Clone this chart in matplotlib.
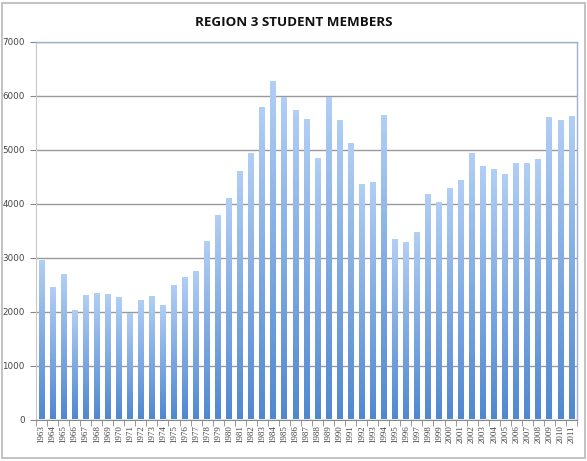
import numpy as np
import matplotlib
matplotlib.use("Agg")
import matplotlib.pyplot as plt
from matplotlib.colors import LinearSegmentedColormap
from matplotlib.patches import Rectangle

years = [str(y) for y in range(1963, 2012)]
members = [2950, 2460, 2690, 2030, 2300, 2350, 2330, 2270, 1980, 2210,
           2285, 2125, 2495, 2635, 2760, 3310, 3795, 4115, 4615, 4950,
           5800, 6280, 5980, 5730, 5580, 4845, 5980, 5545, 5130, 4370,
           4395, 5650, 3350, 3290, 3475, 4180, 4040, 4290, 4445, 4945,
           4700, 4645, 4560, 4765, 4760, 4825, 5610, 5560, 5635]
yticks = [0, 1000, 2000, 3000, 4000, 5000, 6000, 7000]
title = "REGION 3 STUDENT MEMBERS"

W, H = 587, 461
fig = plt.figure(figsize=(W / 100, H / 100), dpi=100)
fig.patch.set_facecolor("white")
# outer chart frame
fig.patches.append(Rectangle((2 / W, 3 / H), (W - 4) / W, (H - 6) / H,
                             transform=fig.transFigure, fill=False,
                             edgecolor="#b8b8b8", linewidth=1.2))

ax = fig.add_axes([36 / W, (H - 419.5) / H, (577 - 36) / W, (419.5 - 42) / H])
x = np.arange(len(years))
bars = ax.bar(x, members, width=0.53, color="none", edgecolor="none", zorder=3)

cmap = LinearSegmentedColormap.from_list("g", ["#5088d0", "#b2cff5"])
grad = np.linspace(0, 1, 256).reshape(-1, 1)
for b in bars:
    x0, w = b.get_x(), b.get_width()
    h = b.get_height()
    im = ax.imshow(grad, cmap=cmap, aspect="auto", origin="lower",
                   extent=(x0, x0 + w, 0, h), zorder=3, interpolation="bilinear")
    im.set_clip_path(b)

ax.set_xlim(-0.5, len(years) - 0.5)
ax.set_ylim(0, 7000)
ax.set_yticks(yticks)
ax.set_yticklabels([str(v) for v in yticks], fontsize=6.3, color="#444444",
                   family="DejaVu Sans")
ax.set_xticks(x)
ax.set_xticklabels(years, rotation=90, fontsize=6.5, family="Liberation Serif",
                   color="#444444")
ax.set_xticks(np.arange(len(years) + 1) - 0.5, minor=True)
ax.tick_params(axis="x", which="major", length=0, pad=4)
ax.tick_params(axis="x", which="minor", length=4, color="#888888")
ax.tick_params(axis="y", length=4, color="#888888", pad=4)

ax.grid(axis="y", color="#999999", linewidth=1.0, zorder=0)
ax.set_axisbelow(True)
for s in ["top", "right"]:
    ax.spines[s].set_color("#9fb2cc")
    ax.spines[s].set_linewidth(1.0)
ax.spines["left"].set_color("#c8c8c8")
ax.spines["bottom"].set_color("#888888")

fig.text(0.5, (H - 22) / H, title, ha="center", va="center", fontsize=9.6,
         fontweight="bold", family="Open Sans", color="#111111")

fig.savefig("out.png", dpi=100)
